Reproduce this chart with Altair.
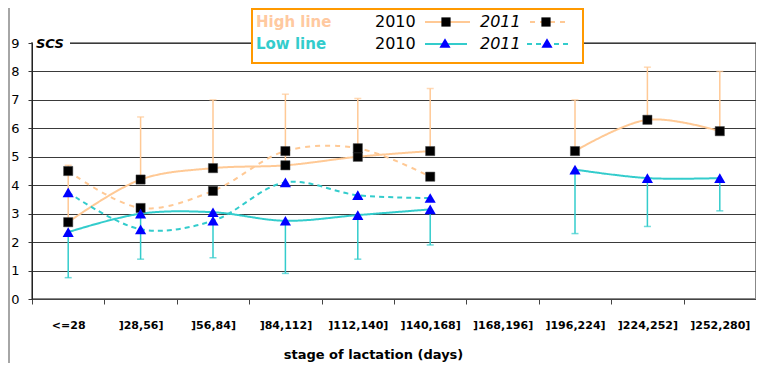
import altair as alt
import pandas as pd

categories = ["<=28", "]28,56]", "]56,84]", "]84,112]", "]112,140]",
              "]140,168]", "]168,196]", "]196,224]", "]224,252]", "]252,280]"]
high_2010 = [2.7, 4.2, 4.6, 4.7, 5.0, 5.2, None, 5.2, 6.3, 5.9]
high_2011 = [4.5, 3.2, 3.8, 5.2, 5.3, 4.3, None, None, None, None]
low_2010 = [2.35, 3.0, 3.05, 2.75, 2.95, 3.15, None, 4.55, 4.25, 4.25]
low_2011 = [3.75, 2.45, 2.75, 4.1, 3.65, 3.55, None, None, None, None]
high_2010_upper = [4.7, 6.4, 7.0, 7.2, 7.05, 7.4, None, 7.0, 8.15, 8.0]
low_2010_lower = [0.75, 1.4, 1.45, 0.9, 1.4, 1.9, None, 2.3, 2.55, 3.1]

ORANGE = "#FFC995"
CYAN = "#33CCCC"
FONT = "DejaVu Sans"

series = [("High 2010", high_2010), ("High 2011", high_2011),
          ("Low 2010", low_2010), ("Low 2011", low_2011)]
rows = []
for name, vals in series:
    for i, v in enumerate(vals):
        if v is not None:
            rows.append({"cat": categories[i], "value": v, "series": name,
                         "seg": 0 if i < 6 else 1,
                         "group": "High" if name.startswith("High") else "Low"})
df = pd.DataFrame(rows)

err_rows = []
for i in range(len(categories)):
    if high_2010_upper[i] is not None:
        err_rows.append({"cat": categories[i], "value": high_2010[i],
                         "bound": high_2010_upper[i], "group": "High"})
    if low_2010_lower[i] is not None:
        err_rows.append({"cat": categories[i], "value": low_2010[i],
                         "bound": low_2010_lower[i], "group": "Low"})
err = pd.DataFrame(err_rows)

xscale = alt.Scale(type="band", domain=categories, paddingInner=0, paddingOuter=0)
xaxis = alt.Axis(title="stage of lactation (days)", labelAngle=0, tickBand="extent",
                 labelFont=FONT, labelFontSize=11, labelFontWeight="bold",
                 labelColor="black", labelPadding=15, tickSize=5,
                 tickColor="#444", domainColor="#444", grid=False,
                 titleFont=FONT, titleFontSize=13, titleFontWeight="bold",
                 titleColor="black", titlePadding=18, titleX=341,
                 titleAlign="center")
yscale = alt.Scale(domain=[0, 9], nice=False)
yaxis = alt.Axis(values=list(range(10)), title=None, grid=True, labelOverlap=False,
                 gridColor="#3a3a3a", gridWidth=1, tickSize=4, tickColor="#333",
                 domainColor="#222", labelFont=FONT, labelFontSize=13,
                 labelColor="black", labelPadding=9)


def X():
    return alt.X("cat:N", sort=categories, scale=xscale, axis=xaxis)


def Y(field="value"):
    return alt.Y(f"{field}:Q", scale=yscale, axis=yaxis)


color_scale = alt.Scale(domain=["High 2010", "High 2011", "Low 2010", "Low 2011"],
                        range=[ORANGE, ORANGE, CYAN, CYAN])
dash_scale = alt.Scale(domain=["High 2010", "High 2011", "Low 2010", "Low 2011"],
                       range=[[1, 0], [5, 5], [1, 0], [5, 4]])

lines = alt.Chart(df).mark_line(interpolate="catmull-rom", strokeWidth=2).encode(
    x=X(), y=Y(),
    color=alt.Color("series:N", scale=color_scale, legend=None),
    strokeDash=alt.StrokeDash("series:N", scale=dash_scale, legend=None),
    detail="seg:N")

err_layers = []
for grp, col in (("High", ORANGE), ("Low", CYAN)):
    d = err[err.group == grp]
    err_layers.append(alt.Chart(d).mark_rule(strokeWidth=1.5, color=col).encode(
        x=X(), y=Y("value"), y2="bound:Q"))
    err_layers.append(alt.Chart(d).mark_tick(size=7, thickness=1.5, color=col).encode(
        x=X(), y=Y("bound")))

high_pts = alt.Chart(df[df.group == "High"]).mark_point(
    shape="square", filled=True, size=85, color="black", stroke="#444",
    strokeWidth=0.5, opacity=1).encode(x=X(), y=Y())
low_pts = alt.Chart(df[df.group == "Low"]).mark_point(
    shape="triangle-up", filled=True, size=125, color="#0000FF", opacity=1).encode(
    x=X(), y=Y())

one = pd.DataFrame({"d": [0]})
ob = alt.Chart(one)


def txt(s, x, y, size, color="black", weight="normal", style="normal"):
    return ob.mark_text(align="left", baseline="middle", font=FONT, fontSize=size,
                        fontWeight=weight, fontStyle=style, color=color).encode(
        x=alt.value(x), y=alt.value(y), text=alt.value(s))


def seg(x1, x2, y, color, dash):
    return ob.mark_rule(color=color, strokeWidth=2, strokeDash=dash).encode(
        x=alt.value(x1), x2=alt.value(x2), y=alt.value(y))


def sym(x, y, shape, color, size):
    return ob.mark_point(shape=shape, filled=True, size=size, color=color, opacity=1).encode(
        x=alt.value(x), y=alt.value(y))


frame = ob.mark_rule(color="#888", strokeWidth=1.5).encode(
    x=alt.value(-23), y=alt.value(-35), y2=alt.value(320))
scs_bg = ob.mark_rect(color="white").encode(
    x=alt.value(1), x2=alt.value(38), y=alt.value(-8), y2=alt.value(10))
scs = txt("SCS", 4, 1, 13, weight="bold", style="italic")

box = ob.mark_rect(fill="white", stroke="#FF9900", strokeWidth=2).encode(
    x=alt.value(220), x2=alt.value(551), y=alt.value(-34), y2=alt.value(20))

legend = [
    box,
    txt("High line", 224, -21, 15, color="#FFC9A0", weight="bold"),
    txt("Low line", 224, 1, 15, color=CYAN, weight="bold"),
    txt("2010", 343, -21, 16),
    txt("2010", 343, 1, 16),
    txt("2011", 448, -21, 16, style="italic"),
    txt("2011", 448, 1, 16, style="italic"),
    seg(393, 438, -21, ORANGE, [1, 0]),
    seg(393, 435, 1, CYAN, [1, 0]),
    seg(498, 533, -21, ORANGE, [5, 5]),
    seg(495, 540, 1, CYAN, [5, 4]),
    sym(414, -21, "square", "black", 85),
    sym(514, -21, "square", "black", 85),
    sym(413, 0, "triangle-up", "#0000FF", 125),
    sym(515, 0, "triangle-up", "#0000FF", 125),
]

chart = alt.layer(lines, *err_layers, high_pts, low_pts, frame, scs_bg, scs,
                  *legend).properties(
    width=724, height=256,
    autosize=alt.AutoSizeParams(type="none"),
    padding={"left": 24, "top": 35, "right": 0, "bottom": 64},
    background="white",
).configure_view(stroke="#888", strokeWidth=2)

chart.save("out.html", embed_options={"renderer": "svg", "actions": False})
